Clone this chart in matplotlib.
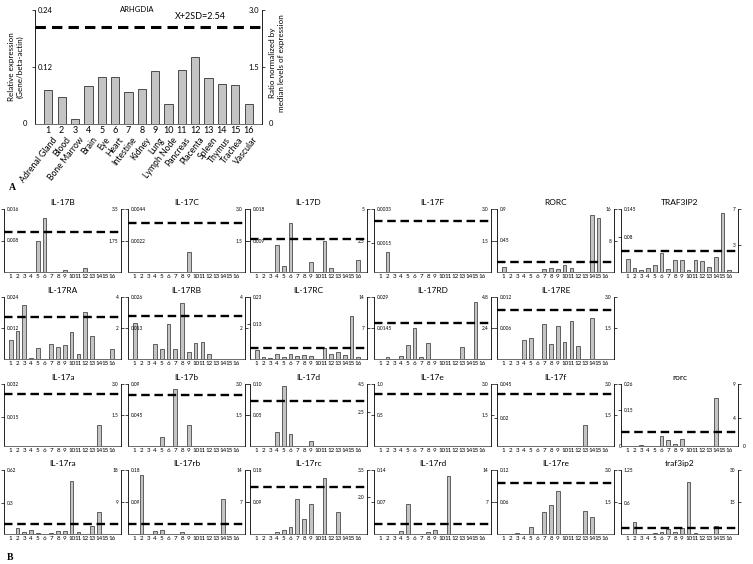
import matplotlib
matplotlib.use('Agg')
import matplotlib.pyplot as plt
from matplotlib.transforms import blended_transform_factory as btf

plt.rcParams['font.family'] = ['Lato', 'DejaVu Sans']

W, H = 753, 564

# ---------------- Panel A data ----------------
tissues = ["Adrenal Gland", "Blood", "Bone Marrow", "Brain", "Eye", "Heart",
           "Intestine", "Kidney", "Lung", "Lymph Node", "Pancreas", "Placenta",
           "Spleen", "Thymus", "Trachea", "Vascular"]
positions = list(range(1, 17))
arhgdia = [0.0707, 0.0567, 0.0112, 0.0798, 0.0987, 0.0987, 0.0672, 0.0735,
           0.111, 0.042, 0.113, 0.141, 0.0966, 0.084, 0.0826, 0.0413]
arhgdia_left_ticks = ["0.24", "0.12"]
arhgdia_right_ticks = ["3.0", "1.5"]
arhgdia_threshold = 2.54

# ---------------- Panel B data ----------------
il17b_h = [0, 0, 0, 0, 0.0078, 0.0138, 0, 0, 0.0005, 0, 0, 0.001, 0, 0, 0, 0]
il17c_h = [0, 0, 0, 0, 0, 0, 0, 0, 0.0014, 0, 0, 0, 0, 0, 0, 0]
il17d_h = [0, 0, 0, 0.0076, 0.0016, 0.014, 0, 0, 0.0029, 0, 0.0088, 0.0011, 0, 0, 0, 0.0034]
il17f_h = [0, 0.00106, 0, 0, 0, 0, 0, 0, 0, 0, 0, 0, 0, 0, 0, 0]
rorc_h = [0.072, 0, 0, 0, 0, 0, 0.045, 0.054, 0.045, 0.1, 0.054, 0, 0, 0.81, 0.77, 0]
traf3ip2_h = [0.029, 0.0087, 0.0044, 0.0087, 0.016, 0.0435, 0.0058, 0.0275, 0.0275,
              0.0044, 0.028, 0.026, 0.0116, 0.0355, 0.135, 0.0044]
il17ra_h = [0.0072, 0.011, 0.0209, 0.0003, 0.0041, 0, 0.006, 0.0046, 0.0055, 0.0103,
            0.0018, 0.0182, 0.0089, 0, 0, 0.0038]
il17rb_h = [0.0151, 0, 0, 0.0062, 0.0042, 0.0146, 0.0044, 0.0234, 0.0029, 0.0068,
            0.0073, 0.0023, 0, 0, 0, 0]
il17rc_h = [0.0345, 0.007, 0.0046, 0.018, 0.007, 0.018, 0.0115, 0.016, 0.0115, 0,
            0.041, 0.018, 0.025, 0.016, 0.161, 0.007]
il17rd_h = [0, 0.0009, 0, 0.0015, 0.0064, 0.0145, 0.0009, 0.0075, 0, 0, 0, 0, 0.0058, 0, 0.0267, 0]
il17re_h = [0, 0, 0, 0.0036, 0.004, 0, 0.0068, 0.0029, 0.0064, 0.0032, 0.0073, 0.0025, 0, 0.008, 0, 0]
il17a_m = [0, 0, 0, 0, 0, 0, 0, 0, 0, 0, 0, 0, 0, 0.0109, 0, 0]
il17b_m = [0, 0, 0, 0, 0.013, 0, 0.083, 0, 0.031, 0, 0, 0, 0, 0, 0, 0]
il17d_m = [0, 0, 0, 0.023, 0.096, 0.019, 0, 0, 0.008, 0, 0, 0, 0, 0, 0, 0]
il17e_m = [0, 0, 0, 0, 0, 0, 0, 0, 0, 0, 0, 0, 0, 0, 0, 0]
il17f_m = [0, 0, 0, 0, 0, 0, 0, 0, 0, 0, 0, 0, 0.0149, 0, 0, 0]
rorc_m = [0, 0, 0.0026, 0, 0, 0.042, 0.025, 0.0104, 0.029, 0, 0, 0, 0, 0.2, 0, 0]
il17ra_m = [0, 0.062, 0.019, 0.043, 0.009, 0, 0.009, 0.031, 0.031, 0.515, 0.022, 0, 0.074, 0.21, 0, 0]
il17rb_m = [0, 0.167, 0, 0.008, 0.0117, 0, 0, 0.0054, 0, 0, 0, 0, 0, 0.099, 0, 0]
il17rc_m = [0, 0, 0, 0.0054, 0.0108, 0.0198, 0.099, 0.041, 0.083, 0, 0.158, 0, 0.061, 0, 0, 0]
il17rd_m = [0, 0, 0, 0.0063, 0.066, 0, 0, 0.0042, 0.0077, 0, 0.126, 0, 0, 0, 0, 0]
il17re_m = [0, 0, 0.0012, 0, 0.0132, 0, 0.041, 0.054, 0.080, 0, 0, 0, 0.043, 0.032, 0, 0]
traf3ip2_m = [0, 0.225, 0, 0.006, 0.0125, 0.0375, 0.094, 0.044, 0.1125, 1.025, 0.025, 0, 0, 0.1625, 0, 0]

panel_titles = ["IL-17B", "IL-17C", "IL-17D", "IL-17F", "RORC", "TRAF3IP2",
                "IL-17RA", "IL-17RB", "IL-17RC", "IL-17RD", "IL-17RE",
                "IL-17a", "IL-17b", "IL-17d", "IL-17e", "IL-17f", "rorc",
                "IL-17ra", "IL-17rb", "IL-17rc", "IL-17rd", "IL-17re", "traf3ip2"]
panel_values = [il17b_h, il17c_h, il17d_h, il17f_h, rorc_h, traf3ip2_h,
                il17ra_h, il17rb_h, il17rc_h, il17rd_h, il17re_h,
                il17a_m, il17b_m, il17d_m, il17e_m, il17f_m, rorc_m,
                il17ra_m, il17rb_m, il17rc_m, il17rd_m, il17re_m, traf3ip2_m]
left_ticks = [("0.016", "0.008"), ("0.0044", "0.0022"), ("0.018", "0.009"),
              ("0.0033", "0.0015"), ("0.9", "0.45"), ("0.145", "0.08"),
              ("0.024", "0.012"), ("0.026", "0.013"), ("0.23", "0.13"),
              ("0.029", "0.0145"), ("0.012", "0.006"),
              ("0.032", "0.015"), ("0.09", "0.045"), ("0.10", "0.05"),
              ("1.0", "0.5"), ("0.045", "0.02"), ("0.26", "0.15"),
              ("0.62", "0.3"), ("0.18", "0.09"), ("0.18", "0.09"),
              ("0.14", "0.07"), ("0.12", "0.06"), ("1.25", "0.6")]
right_ticks = [("3.5", "1.75"), ("3.0", "1.5"), ("5", "2.5"), ("3.0", "1.5"),
               ("16", "8"), ("7", "3"),
               ("4", "2"), ("4", "2"), ("14", "7"), ("4.8", "2.4"), ("3.0", "1.5"),
               ("3.0", "1.5"), ("3.0", "1.5"), ("4.5", "2.5"), ("3.0", "1.5"),
               ("3.0", "1.5"), ("9", "4"),
               ("18", "9"), ("14", "7"), ("3.5", "2.0"), ("14", "7"),
               ("3.0", "1.5"), ("30", "15")]
thresholds = [2.25, 2.35, 2.6, 2.45, 2.6, 2.3,
              2.72, 2.76, 2.4, 2.8, 2.37,
              2.5, 2.46, 3.28, 2.5, 2.5, 1.98,
              2.9, 2.1, 2.55, 2.1, 2.4, 3.0]
right_zero = ["IL-17f", "rorc"]

BAR_FC = "#c4c4c4"
BAR_EC = "#4a4a4a"

fig = plt.figure(figsize=(W / 100, H / 100), dpi=100)


def box(l, t, r, b):
    return [l / W, 1 - b / H, (r - l) / W, (b - t) / H]


def style_axes(ax, ax2, lfs, rfs):
    for s in ["top", "right"]:
        ax.spines[s].set_visible(False)
    for s in ["top", "left", "bottom"]:
        ax2.spines[s].set_visible(False)
    ax.spines["left"].set_linewidth(0.6)
    ax.spines["bottom"].set_linewidth(0.6)
    ax.spines["bottom"].set_color("#555555")
    ax2.spines["right"].set_linewidth(0.6)
    ax.tick_params(axis='y', direction='out', length=2, width=0.5, pad=-3.8, labelsize=lfs)
    ax2.tick_params(axis='y', direction='out', length=2, width=0.5, pad=-3.8, labelsize=rfs)
    for t in ax.get_yticklabels():
        t.set_ha('left')
    for t in ax2.get_yticklabels():
        t.set_ha('right')
    ax.tick_params(axis='x', length=0, pad=1.5)


# ---------------- Panel A ----------------
axA = fig.add_axes(box(35, 10, 262, 124))
axA.bar(positions, arhgdia, width=0.62, color=BAR_FC, edgecolor=BAR_EC, linewidth=0.7)
axA.set_xlim(0, 17)
lmax = float(arhgdia_left_ticks[0])
axA.set_ylim(0, lmax)
axA.set_yticks([float(v) for v in arhgdia_left_ticks])
axA.set_yticklabels(arhgdia_left_ticks)
axA.set_xticks(positions)
axA.set_xticklabels([str(p) for p in positions], fontsize=6.5)
axA2 = axA.twinx()
rmax = float(arhgdia_right_ticks[0])
axA2.set_ylim(0, rmax)
axA2.set_yticks([float(v) for v in arhgdia_right_ticks])
axA2.set_yticklabels(arhgdia_right_ticks)
axA2.axhline(arhgdia_threshold, color='black', lw=2.2, dashes=(3.4, 2.0))
style_axes(axA, axA2, 5.5, 5.5)
axA.text(-0.035, 0, "0", transform=axA.transAxes, ha='right', va='center', fontsize=5.5)
axA.text(1.03, 0, "0", transform=axA.transAxes, ha='left', va='center', fontsize=5.5)
axA.text(0.45, 1.0, "ARHGDIA", transform=axA.transAxes, ha='center', va='center', fontsize=5.5)
axA.text(0.73, 0.905, "X+2SD=2.54", transform=axA.transAxes, ha='center', va='bottom', fontsize=6.5)
trA = btf(axA.transData, axA.transAxes)
for p, name in zip(positions, tissues):
    axA.text(p + 0.25, -0.10, name, transform=trA, rotation=52, ha='right', va='top',
             rotation_mode='anchor', fontsize=6.2)
fig.text(16 / W, 1 - 67 / H, "Relative expression\n(Gene/beta-actin)", rotation=90,
         ha='center', va='center', fontsize=5.8, linespacing=1.2)
fig.text(277 / W, 1 - 63 / H, "Ratio normalized by\nmedian levels of expression", rotation=90,
         ha='center', va='center', fontsize=5.8, linespacing=1.2)
fig.text(12 / W, 1 - 187 / H, "A", fontsize=7, fontweight='bold', family='Liberation Serif',
         ha='center', va='center')
fig.text(10 / W, 1 - 557 / H, "B", fontsize=7, fontweight='bold', family='Liberation Serif',
         ha='center', va='center')

# ---------------- Panel B ----------------
col_left = [4, 128, 250, 374, 497, 621]
col_w = 117
rows = [(209, 272), (297, 359), (384, 446), (470, 534)]
row_counts = [6, 5, 6, 6]

idx = 0
for r, n in enumerate(row_counts):
    top, bot = rows[r]
    for c in range(n):
        l = col_left[c]
        ax = fig.add_axes(box(l, top, l + col_w, bot))
        vals = panel_values[idx]
        ax.bar(positions, vals, width=0.55, color=BAR_FC, edgecolor=BAR_EC, linewidth=0.6)
        ax.set_xlim(0, 17.3)
        lt = left_ticks[idx]
        ax.set_ylim(0, float(lt[0]))
        ax.set_yticks([float(v) for v in lt])
        ax.set_yticklabels(list(lt))
        ax.set_xticks(positions)
        ax.set_xticklabels([str(p) for p in positions], fontsize=4.5)
        ax2 = ax.twinx()
        rt = right_ticks[idx]
        ax2.set_ylim(0, float(rt[0]))
        ax2.set_yticks([float(v) for v in rt])
        ax2.set_yticklabels(list(rt))
        ax2.axhline(thresholds[idx], color='black', lw=1.7, dashes=(3.6, 2.0))
        style_axes(ax, ax2, 3.4, 3.4)
        ax.set_title(panel_titles[idx], fontsize=6, pad=3)
        if panel_titles[idx] in right_zero:
            ax.text(1.04, 0, "0", transform=ax.transAxes, ha='left', va='center', fontsize=3.6)
        idx += 1

fig.savefig("out.png", dpi=100)
